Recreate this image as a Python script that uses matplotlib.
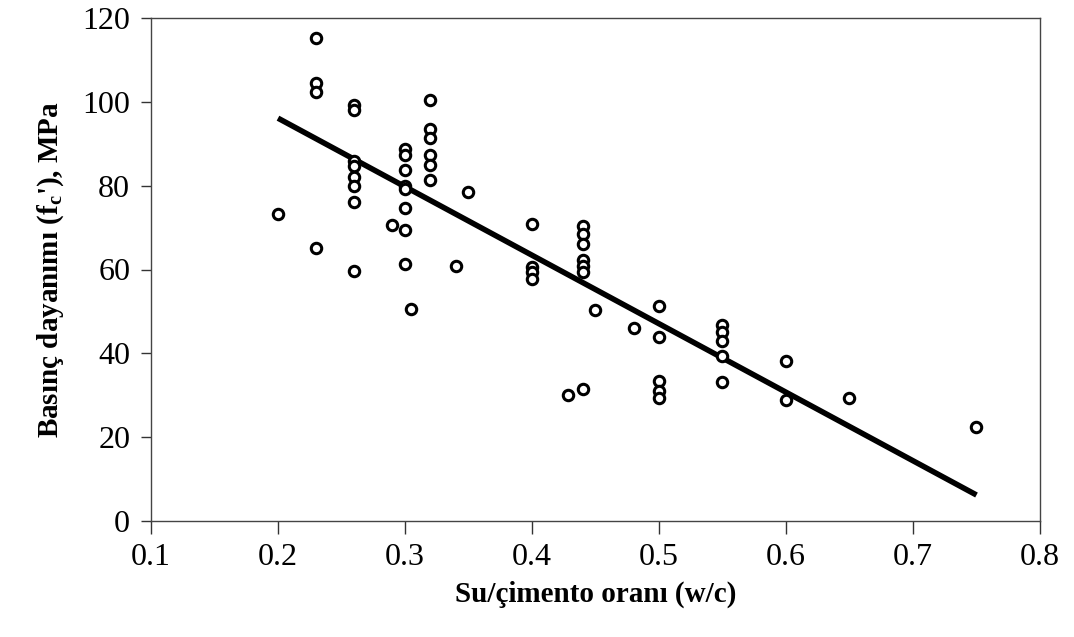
import numpy as np
import matplotlib
matplotlib.use("Agg")
import matplotlib.pyplot as plt

plt.rcParams['font.family'] = ['Liberation Serif', 'DejaVu Serif']
plt.rcParams['mathtext.fontset'] = 'custom'
plt.rcParams['mathtext.rm'] = 'Liberation Serif:bold'
plt.rcParams['mathtext.it'] = 'Liberation Serif:bold'
plt.rcParams['mathtext.bf'] = 'Liberation Serif:bold'

# su/çimento oranı ve basınç dayanımı (MPa)
w_c = [0.20,
       0.23, 0.23, 0.23, 0.23,
       0.26, 0.26, 0.26, 0.26, 0.26, 0.26, 0.26, 0.26,
       0.29,
       0.30, 0.30, 0.30, 0.30, 0.30, 0.30, 0.30, 0.30,
       0.305,
       0.32, 0.32, 0.32, 0.32, 0.32, 0.32,
       0.34, 0.35,
       0.40, 0.40, 0.40, 0.40,
       0.428,
       0.44, 0.44, 0.44, 0.44, 0.44, 0.44, 0.44,
       0.45, 0.48,
       0.50, 0.50, 0.50, 0.50, 0.50,
       0.55, 0.55, 0.55, 0.55, 0.55,
       0.60, 0.60,
       0.65, 0.75]
fc = [73.3,
      115.2, 104.4, 102.3, 65.2,
      99.3, 98.1, 86.0, 84.6, 82.0, 80.0, 76.1, 59.6,
      70.5,
      88.8, 87.2, 83.8, 80.0, 79.2, 74.7, 69.5, 61.4,
      50.5,
      100.4, 93.4, 91.4, 87.2, 85.0, 81.4,
      60.9, 78.4,
      70.8, 60.6, 59.4, 57.8,
      30.0,
      70.4, 68.4, 66.1, 62.3, 60.8, 59.4, 31.6,
      50.3, 46.1,
      51.3, 43.8, 33.4, 31.0, 29.4,
      46.7, 45.0, 43.0, 39.4, 33.2,
      38.1, 28.8,
      29.4, 22.5]

# doğrusal eğilim çizgisi uç noktaları
trend_x = [0.20, 0.75]
trend_y = [96.1, 6.2]

x_ticks = [0.1, 0.2, 0.3, 0.4, 0.5, 0.6, 0.7, 0.8]
y_ticks = [0, 20, 40, 60, 80, 100, 120]

fig = plt.figure(figsize=(10.74, 6.37), dpi=100)
ax = fig.add_axes([151 / 1074, 1 - 521 / 637, 889 / 1074, 503 / 637])

ax.plot(w_c, fc, linestyle='none', marker='o', markersize=7.5,
        markerfacecolor='white', markeredgecolor='black', markeredgewidth=2.2,
        zorder=3)
ax.plot(trend_x, trend_y, color='black', linewidth=4.0, solid_capstyle='butt',
        zorder=2)

ax.set_xlim(0.1, 0.8)
ax.set_ylim(0, 120)
ax.set_xticks(x_ticks)
ax.set_xticklabels([f"{v:.1f}" for v in x_ticks])
ax.set_yticks(y_ticks)

ax.tick_params(axis='both', direction='out', labelsize=23, width=1, color='#333333')
ax.tick_params(axis='y', length=7, pad=8)
ax.tick_params(axis='x', length=9, pad=7)
for s in ax.spines.values():
    s.set_linewidth(1.0)
    s.set_color('#444444')

ax.set_xlabel("Su/çimento oranı (w/c)", fontsize=21, fontweight='bold', labelpad=6)
ax.set_ylabel("Basınç dayanımı (f$_\\mathrm{c}$'), MPa", fontsize=21,
              fontweight='bold', labelpad=12)

fig.savefig("out.png", dpi=100, facecolor='white')
